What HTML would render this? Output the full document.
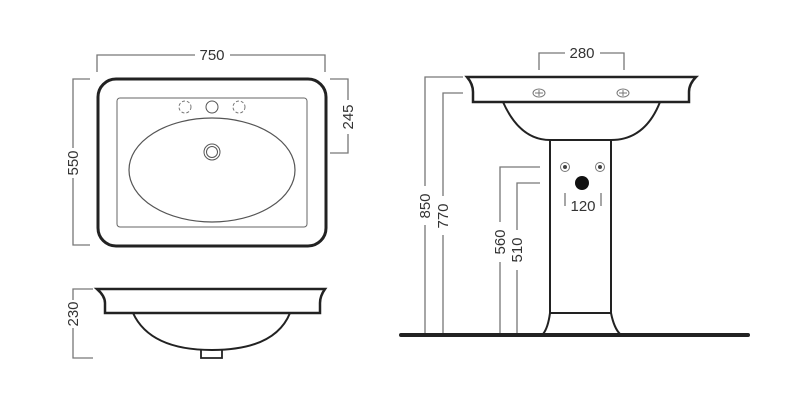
<!DOCTYPE html>
<html><head><style>html,body{margin:0;padding:0;background:#fff}svg{display:block}text{font-family:"Liberation Sans",sans-serif;font-size:15px;fill:#333}</style></head><body>
<svg width="800" height="413" viewBox="0 0 800 413" xmlns="http://www.w3.org/2000/svg">
<g fill="none" stroke="#777" stroke-width="1.3">
<!-- 750 -->
<path d="M97 72V55H195M230 55H325V72"/>
<!-- 550 -->
<path d="M90 79H73V148M73 178V245H90"/>
<!-- 245 -->
<path d="M330 79H348V100M348 134V153H330"/>
<!-- 230 -->
<path d="M93 289H73V300M73 328V358H93"/>
<!-- 280 -->
<path d="M539 70V53H565M600 53H624V70"/>
<!-- 850 -->
<path d="M463 77H425V186M425 225V335"/>
<!-- 770 -->
<path d="M463 93H443V196M443 235V335"/>
<!-- 560 -->
<path d="M540 167H500V222M500 262V335"/>
<!-- 510 -->
<path d="M540 183H517V230M517 270V335"/>
<!-- 120 -->
<path d="M565 193V206M601 193V206"/>
</g>
<g fill="#444">
<text x="212" y="60" text-anchor="middle">750</text>
<text transform="translate(78,163) rotate(-90)" text-anchor="middle">550</text>
<text transform="translate(353,117) rotate(-90)" text-anchor="middle">245</text>
<text transform="translate(78,314) rotate(-90)" text-anchor="middle">230</text>
<text x="582" y="58" text-anchor="middle">280</text>
<text transform="translate(430,206) rotate(-90)" text-anchor="middle">850</text>
<text transform="translate(448,216) rotate(-90)" text-anchor="middle">770</text>
<text transform="translate(505,242) rotate(-90)" text-anchor="middle">560</text>
<text transform="translate(522,250) rotate(-90)" text-anchor="middle">510</text>
<text x="583" y="211" text-anchor="middle">120</text>
</g>
<!-- top view -->
<g fill="none" stroke="#222">
<rect x="98" y="79" width="228" height="167" rx="18" stroke-width="3"/>
<rect x="117" y="98" width="190" height="129" rx="3" stroke-width="1" stroke="#666"/>
<ellipse cx="212" cy="170" rx="83" ry="52" stroke-width="1.2" stroke="#555"/>
<circle cx="212" cy="152" r="8" stroke-width="1" stroke="#555"/>
<circle cx="212" cy="152" r="5.5" stroke-width="1" stroke="#555"/>
<circle cx="212" cy="107" r="6" stroke-width="1" stroke="#555"/>
<circle cx="185" cy="107" r="6" stroke-width="1" stroke="#777" stroke-dasharray="3 2"/>
<circle cx="239" cy="107" r="6" stroke-width="1" stroke="#777" stroke-dasharray="3 2"/>
</g>
<!-- side view -->
<g fill="none" stroke="#222" stroke-width="2.5">
<path d="M97 289H325Q320 296 320 303V313H105V303Q105 296 97 289Z"/>
<path d="M133 313Q150 350 212 350Q275 350 290 313" stroke-width="2"/>
<path d="M201 350V358H222V350" stroke-width="1.8"/>
</g>
<!-- pedestal -->
<g fill="none" stroke="#222" stroke-width="2.5">
<path d="M467 77H696Q689 84 689 92V102H473V92Q473 84 467 77Z"/>
<path d="M503 102Q520 140 550 140H611Q645 140 660 102" stroke-width="2"/>
<path d="M550 140V313Q548 328 543 334M611 140V313Q614 328 620 334M550 313H611" stroke-width="2"/>
</g>
<line x1="401" y1="335" x2="748" y2="335" stroke="#222" stroke-width="4" stroke-linecap="round"/>
<g fill="none" stroke="#777" stroke-width="1">
<ellipse cx="539" cy="93" rx="6" ry="4"/><ellipse cx="623" cy="93" rx="6" ry="4"/>
<path d="M535 93h8M539 90v6M619 93h8M623 90v6"/>
<circle cx="565" cy="167" r="4.5"/><circle cx="600" cy="167" r="4.5"/>
</g>
<circle cx="565" cy="167" r="2" fill="#444"/><circle cx="600" cy="167" r="2" fill="#444"/>
<circle cx="582" cy="183" r="7" fill="#111"/>
</svg>
</body></html>
